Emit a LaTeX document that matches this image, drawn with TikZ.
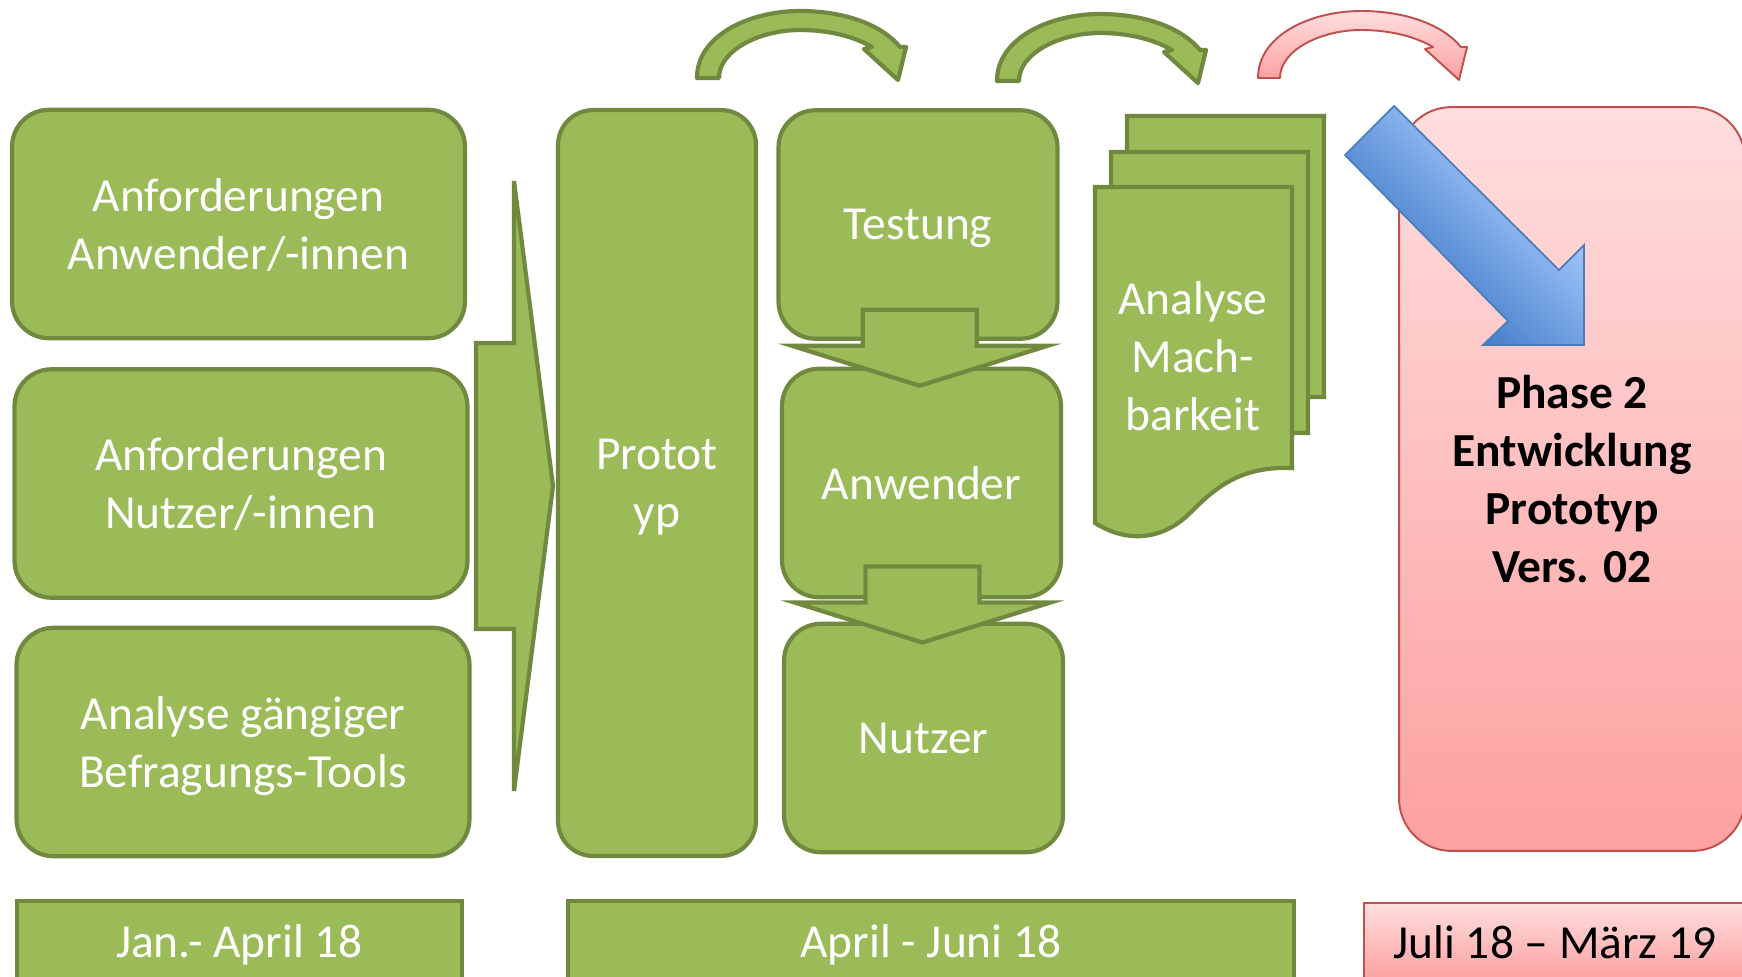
\documentclass[tikz,border=0pt]{standalone}
\usepackage{fontspec}
\setmainfont{Carlito}
\usepackage{xcolor}
\usepackage{tikz}
\usetikzlibrary{calc}
\definecolor{pgreen}{RGB}{155,187,89}
\definecolor{pgreendk}{RGB}{113,137,63}
\definecolor{pred}{RGB}{192,80,77}
\definecolor{predlt}{RGB}{255,222,222}
\definecolor{predmd}{RGB}{253,160,160}
\definecolor{pblue}{RGB}{74,126,187}
\definecolor{pbluedk}{RGB}{68,124,200}
\definecolor{pbluelt}{RGB}{160,198,250}
\pgfdeclarehorizontalshading{blauverlauf}{100bp}{color(0bp)=(pbluedk); color(35bp)=(pbluedk);
  color(65bp)=(pbluelt); color(100bp)=(pbluelt)}

\begin{document}
\begin{tikzpicture}[
  x=0.02cm, y=-0.02cm,
  font=\fontsize{27}{33}\selectfont,
  every node/.style={align=center, text depth=0pt},
  base/.style    = {draw=pgreendk, line width=2.4pt, fill=pgreen, text=white, inner sep=2pt},
  leftnd/.style  = {base, rounded corners=0.74cm, minimum width=9.06cm, minimum height=4.57cm},
  midnd/.style   = {base, rounded corners=0.74cm, minimum width=5.58cm, minimum height=4.57cm},
  protnd/.style  = {base, rounded corners=0.7cm, minimum width=3.96cm, minimum height=14.92cm},
  phasend/.style = {draw=pred, line width=1.1pt, top color=predlt, bottom color=predmd,
                    rounded corners=1.05cm, minimum width=6.92cm, minimum height=14.88cm,
                    font=\fontsize{27}{33}\selectfont\bfseries},
  gbar/.style    = {base, minimum height=1.6cm},
  rbar/.style    = {draw=pred, line width=1.1pt, top color=predlt, bottom color=predmd,
                    minimum height=1.56cm},
  blockpf/.style = {draw=pgreendk, line width=2.4pt, fill=pgreen},
  gpf/.style     = {blockpf, line join=round},
  rpf/.style     = {draw=pred, line width=1.1pt, top color=predlt, bottom color=predmd,
                    line join=round},
  bluepf/.style  = {draw=pblue, line width=1pt, shade, shading=blauverlauf, shading angle=45},
  pics/bogen/.style = {code={
    \draw[#1] (-103,0) .. controls (-103,-43) and (-50,-67) .. (0,-67)
      .. controls (45,-67) and (82,-53) .. (100,-31) -- (106,-31) -- (98,2)
      -- (64,-29) -- (72,-31) .. controls (55,-41) and (30,-48) .. (0,-48)
      .. controls (-40,-48) and (-81,-28) .. (-81,0) -- cycle;}},
  pics/pfeilab/.style = {code={
    \draw[blockpf] (-57,-44) -- (57,-44) -- (57,-8) -- (128,-8) -- (0,32)
      -- (-128,-8) -- (-57,-8) -- cycle;}},
  pics/dokument/.style = {code={
    \draw[blockpf] (0,0) -- (197,0) -- (197,281)
      .. controls (145,279) and (120,301) .. (95,326)
      .. controls (70,351) and (35,358) .. (0,336) -- cycle;}}
]
\useasboundingbox (0,0) rectangle (1742,977);
\clip (0,0) rectangle (1742,977);

\node[leftnd] (anfAnw) at (238.5,224) {Anforderungen\\Anwender/-innen};
\node[leftnd] (anfNutz) at (241,483.5) {Anforderungen\\Nutzer/-innen};
\node[leftnd] (toolAna) at (243,742) {Analyse gängiger\\Befragungs-Tools};
\draw[blockpf] (476,343) -- (514,343) -- (514,181) -- (553,486) -- (514,791)
  -- (514,629) -- (476,629) -- cycle;
\node[protnd] (proto) at (657,483) {Protot\\yp};

\node[midnd] (testung) at (918,224.5) {Testung};
\node[midnd] (anwender) at (921.5,483) {Anwender};
\node[midnd] (nutzer) at (923.5,738) {Nutzer};
\pic at ($(testung.south)!0.5!(anwender.north)$) {pfeilab};
\pic at ($(anwender.south)!0.5!(nutzer.north)$) {pfeilab};

\pic at (1127,116) {dokument};
\pic at (1111,152) {dokument};
\pic at (1095,187) {dokument};
\node[text=white] (machbar) at (1193,356) {Analyse\\Mach-\\barkeit};

\pic at (800,78) {bogen=gpf};
\pic at (1100,81) {bogen=gpf};
\pic at (1361,78) {bogen=rpf};

\node[phasend] (phase) at (1572,479) {Phase 2\\Entwicklung\\Prototyp\\Vers. 02};
\draw[bluepf] (1394,106) -- (1559,270) -- (1584,245) -- (1584,345) -- (1483,345)
  -- (1508,321) -- (1345,155) -- cycle;

\node[gbar, minimum width=8.9cm] (zeitA) at (239.5,941) {Jan.- April 18};
\node[gbar, minimum width=14.52cm] (zeitB) at (931,941) {April - Juni 18};
\node[rbar, minimum width=7.64cm] (zeitC) at (1555,942) {Juli 18 – März 19};
\end{tikzpicture}
\end{document}
